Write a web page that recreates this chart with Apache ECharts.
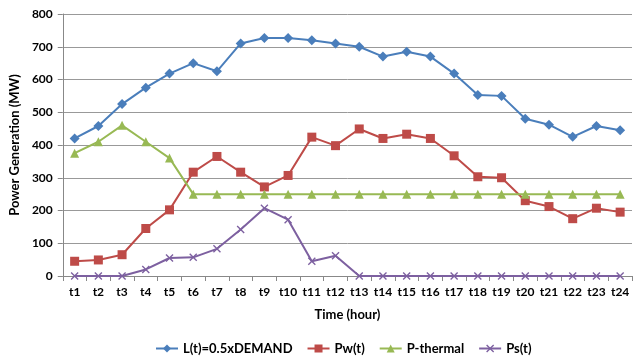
<!DOCTYPE html>
<html><head><meta charset="utf-8">
<script src="https://cdn.jsdelivr.net/npm/echarts@6/dist/echarts.min.js"></script>
<style>html,body{margin:0;padding:0;background:#fff}#c{width:638px;height:362px}</style>
</head><body><div id="c"></div>
<script>
const categories = ['t1','t2','t3','t4','t5','t6','t7','t8','t9','t10','t11','t12','t13','t14','t15','t16','t17','t18','t19','t20','t21','t22','t23','t24'];
const demand = [420,458,525,575,618,650,625,710,727,727,720,710,700,670,685,670,618,553,550,480,462,425,458,445];
const pw = [45,49,65,145,202,317,365,317,272,307,424,398,449,420,433,420,367,303,300,230,212,175,207,195];
const pThermal = [375,410,460,410,360,250,250,250,250,250,250,250,250,250,250,250,250,250,250,250,250,250,250,250];
const ps = [0,0,0,20,55,57,83,142,207,172,45,62,0,0,0,0,0,0,0,0,0,0,0,0];
const yTicks = {min:0, max:800, interval:100};

const font = 'Lato, "Open Sans", sans-serif';
const xSym = 'path://M0,1.2L1.2,0L5,3.8L8.8,0L10,1.2L6.2,5L10,8.8L8.8,10L5,6.2L1.2,10L0,8.8L3.8,5Z';
const chart = echarts.init(document.getElementById('c'));
chart.setOption({
  animation:false,
  grid:{left:58,right:6,top:14,bottom:86},
  legend:{bottom:2,left:150,itemGap:14,itemWidth:22,itemHeight:10,
    textStyle:{fontFamily:font,fontWeight:'bold',fontSize:13,color:'#000'},
    data:['L(t)=0.5xDEMAND','Pw(t)','P-thermal','Ps(t)']},
  xAxis:{type:'category',data:categories,boundaryGap:true,
    name:'Time (hour)',nameLocation:'middle',nameGap:32,
    nameTextStyle:{fontFamily:font,fontWeight:'bold',fontSize:13,color:'#000'},
    axisLine:{lineStyle:{color:'#888'}},
    axisTick:{show:true,alignWithLabel:false,interval:0,length:5,lineStyle:{color:'#888'}},
    axisLabel:{interval:0,fontFamily:font,fontWeight:'bold',fontSize:12,color:'#000',margin:10}},
  yAxis:{type:'value',min:yTicks.min,max:yTicks.max,interval:yTicks.interval,
    name:'Power Generation (MW)',nameLocation:'middle',nameGap:36,
    nameTextStyle:{fontFamily:font,fontWeight:'bold',fontSize:13,color:'#000'},
    axisLine:{show:true,lineStyle:{color:'#888'}},
    axisTick:{show:true,length:5,lineStyle:{color:'#888'}},
    splitLine:{lineStyle:{color:'#999',width:1}},
    axisLabel:{fontFamily:font,fontWeight:'bold',fontSize:12,color:'#000',margin:10}},
  series:[
    {name:'L(t)=0.5xDEMAND',type:'line',data:demand,symbol:'diamond',symbolSize:10,
      lineStyle:{color:'#4a7ebb',width:2},itemStyle:{color:'#4a7ebb'}},
    {name:'Pw(t)',type:'line',data:pw,symbol:'rect',symbolSize:9,
      lineStyle:{color:'#be4b48',width:2},itemStyle:{color:'#be4b48'}},
    {name:'P-thermal',type:'line',data:pThermal,symbol:'triangle',symbolSize:9,
      lineStyle:{color:'#98b954',width:2},itemStyle:{color:'#98b954'}},
    {name:'Ps(t)',type:'line',data:ps,symbol:xSym,symbolSize:8,
      lineStyle:{color:'#7d60a0',width:2},itemStyle:{color:'#7d60a0'}}
  ]
});
</script></body></html>
